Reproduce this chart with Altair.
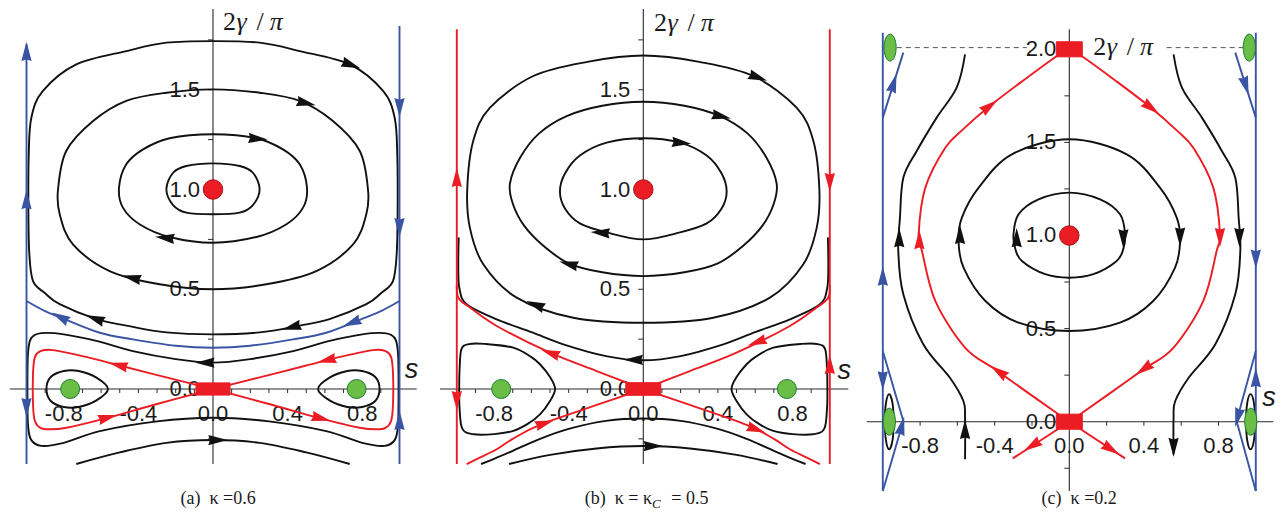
import altair as alt
import pandas as pd

# ======================= DATA =======================
# ---------- panel (a): kappa = 0.6 ----------
# closed orbits around the centre (0,1): right halves, top -> bottom
A_LOOP1 = [(0, 1.131), (0.143, 1.118), (0.214, 1.084), (0.25, 1.001), (0.214, 0.922), (0.143, 0.884), (0, 0.876)]
A_LOOP2 = [(0, 1.277), (0.233, 1.257), (0.375, 1.201), (0.465, 1.126), (0.504, 1.009), (0.483, 0.909),
           (0.394, 0.826), (0.233, 0.762), (0, 0.733)]
A_LOOP3 = [(0, 1.502), (0.25, 1.485), (0.465, 1.444), (0.643, 1.343), (0.787, 1.193), (0.831, 1.0),
           (0.822, 0.876), (0.751, 0.725), (0.554, 0.591), (0.286, 0.525), (0, 0.5)]
A_LOOP4 = [(0, 1.744), (0.25, 1.736), (0.465, 1.694), (0.733, 1.627), (0.912, 1.494), (0.974, 1.36),
           (0.988, 1.176), (0.99, 0.9), (0.985, 0.68), (0.965, 0.541), (0.9, 0.48), (0.822, 0.425),
           (0.625, 0.35), (0.465, 0.318), (0.25, 0.284), (0, 0.274)]
A_LOOP5 = [(0, 0.132), (0.2, 0.15), (0.43, 0.19), (0.62, 0.24), (0.8, 0.274), (0.92, 0.28), (0.975, 0.255),
           (0.992, 0.18), (0.995, 0.0), (0.992, -0.18), (0.975, -0.255), (0.92, -0.285), (0.8, -0.27),
           (0.607, -0.211), (0.3, -0.162), (0, -0.144)]
A_TEAR = [(-0.893, 0), (-0.87, 0.06), (-0.8, 0.09), (-0.72, 0.09), (-0.625, 0.057), (-0.563, 0),
          (-0.625, -0.057), (-0.72, -0.09), (-0.8, -0.09), (-0.87, -0.06)]
A_LOBE = [(0, 0), (-0.25, 0.058), (-0.5, 0.118), (-0.7, 0.165), (-0.858, 0.195), (-0.925, 0.19),
          (-0.955, 0.16), (-0.965, 0.08), (-0.965, -0.08), (-0.955, -0.16), (-0.925, -0.195),
          (-0.876, -0.202), (-0.786, -0.194), (-0.607, -0.155), (-0.3, -0.075), (0, 0)]
A_SEP = [(-1.0, 0.441), (-0.9, 0.39), (-0.813, 0.357), (-0.607, 0.282), (-0.429, 0.249), (-0.2, 0.217), (0, 0.207)]
A_ARC = [(-0.733, -0.376), (-0.5, -0.318), (-0.25, -0.27), (0, -0.256)]
A_WALLS = [[(-1, -0.376), (-1, 1.728)], [(1, -0.376), (1, 1.82)]]
A_ARROWS_BLACK = [(0.733, 1.627, 110), (0.492, 1.435, 103), (0.233, 1.255, 95), (-0.25, 0.757, 276),
                  (-0.429, 0.556, 283), (-0.625, 0.35, 290), (0.429, 0.312, 255), (-0.035, 0.132, 270),
                  (0.018, -0.256, 90)]
A_ARROWS_RED = [(-0.5, 0.118, 284), (-0.572, -0.145, 75), (0.617, 0.146, 256), (0.572, -0.145, 104)]
A_ARROWS_BLUE = [(-0.813, 0.357, 298), (0.751, 0.334, 248), (-1, 1.684, 0), (-1, 0.942, 0), (-1, -0.085, 180),
                 (1, 1.418, 180), (1, 0.817, 180), (1, -0.165, 0)]
A_GREEN = [(-0.766, 0), (0.77, 0)]

# ---------- panel (b): kappa = kappa_C = 0.5 ----------
B_LOOP1 = [(0, 1.257), (0.197, 1.235), (0.34, 1.17), (0.42, 1.08), (0.447, 0.99), (0.42, 0.905),
           (0.34, 0.83), (0.197, 0.785), (0, 0.75)]
B_LOOP2 = [(0, 1.44), (0.22, 1.42), (0.411, 1.368), (0.56, 1.28), (0.66, 1.16), (0.715, 1.03), (0.7, 0.93),
           (0.64, 0.82), (0.536, 0.718), (0.4, 0.63), (0.22, 0.585), (0, 0.566)]
B_LOOP3 = [(0, 1.672), (0.3, 1.64), (0.59, 1.569), (0.822, 1.41), (0.912, 1.243), (0.944, 1.0), (0.93, 0.809),
           (0.858, 0.625), (0.679, 0.458), (0.375, 0.357), (0, 0.332)]
B_U = [(-0.99, 0.76), (-0.992, 0.6), (-0.985, 0.5), (-0.947, 0.425), (-0.786, 0.349), (-0.6, 0.285),
       (-0.429, 0.224), (-0.2, 0.165), (0, 0.144)]
B_TEAR = [(-0.985, 0.1), (-0.975, 0.2), (-0.935, 0.225), (-0.85, 0.226), (-0.697, 0.207), (-0.6, 0.16),
          (-0.554, 0.124), (-0.5, 0.06), (-0.473, 0.0), (-0.5, -0.06), (-0.554, -0.127), (-0.62, -0.175),
          (-0.697, -0.21), (-0.8, -0.226), (-0.91, -0.227), (-0.97, -0.2), (-0.985, -0.1), (-0.987, 0.0)]
B_SEP_UP = [(-1.0, 0.52), (-0.99, 0.455), (-0.929, 0.408), (-0.786, 0.316), (-0.5, 0.182), (-0.25, 0.09), (0, 0)]
B_SEP_DN = [(0, 0), (-0.25, -0.08), (-0.554, -0.18), (-0.7, -0.25), (-0.786, -0.302), (-0.88, -0.345),
            (-0.947, -0.377)]
B_ARC1 = [(-0.87, -0.376), (-0.8, -0.35), (-0.7, -0.31), (-0.554, -0.25), (-0.4, -0.2), (-0.2, -0.16), (0, -0.148)]
B_ARC2 = [(-0.72, -0.376), (-0.5, -0.33), (-0.25, -0.298), (0, -0.286)]
B_WALLS = [[(-1, -0.376), (-1, 1.803)], [(1, -0.376), (1, 1.803)]]
B_ARROWS_BLACK = [(0.608, 1.564, 110), (0.411, 1.368, 103), (0.197, 1.235, 96), (-0.223, 0.783, 274),
                  (-0.393, 0.625, 285), (-0.572, 0.42, 292), (-0.045, 0.146, 270), (0.045, -0.286, 90)]
B_ARROWS_RED = [(-0.491, 0.178, 289), (0.617, 0.237, 250), (-0.536, -0.174, 72), (0.599, -0.2, 110),
                (-1, 1.053, 0), (-1, -0.05, 180), (1, 1.043, 180), (1, 0.115, 0)]
B_GREEN = [(-0.762, 0), (0.77, 0)]

# ---------- panel (c): kappa = 0.2 ----------
C_LOOP1 = [(0, 1.23), (0.165, 1.194), (0.272, 1.114), (0.299, 1.007), (0.29, 0.93), (0.254, 0.863),
           (0.129, 0.792), (0, 0.773)]
C_LOOP2 = [(0, 1.517), (0.308, 1.436), (0.486, 1.257), (0.576, 1.096), (0.594, 0.97), (0.567, 0.827),
           (0.45, 0.648), (0.272, 0.532), (0, 0.487)]
C_SEP = [(0, 2.0), (0.066, 1.964), (0.25, 1.83), (0.433, 1.69), (0.57, 1.57), (0.665, 1.471), (0.772, 1.257),
         (0.808, 1.006), (0.79, 0.917), (0.718, 0.648), (0.558, 0.397), (0.397, 0.281), (0.2, 0.14),
         (0.066, 0.045), (0, 0)]
C_STUBS = [[(0, 0), (-0.303, -0.197)], [(0, 0), (0.299, -0.197)]]
C_OPEN_L = [(-0.559, 1.973), (-0.604, 1.794), (-0.711, 1.633), (-0.818, 1.454), (-0.89, 1.31), (-0.908, 1.096),
            (-0.917, 0.917), (-0.89, 0.684), (-0.783, 0.416), (-0.64, 0.236), (-0.568, 0.111), (-0.559, 0.021),
            (-0.559, -0.202)]
C_OPEN_R = [(0.559, 1.973), (0.604, 1.794), (0.711, 1.633), (0.818, 1.454), (0.89, 1.31), (0.908, 1.096),
            (0.917, 0.917), (0.89, 0.684), (0.783, 0.416), (0.64, 0.236), (0.568, 0.111), (0.559, 0.021),
            (0.559, -0.175)]
C_RING_L = [(-0.966, 0.148), (-0.948, 0.1), (-0.942, 0), (-0.948, -0.1), (-0.966, -0.148), (-0.983, -0.1),
            (-0.989, 0), (-0.983, 0.1)]
C_RING_R = [(0.972, 0.148), (0.99, 0.1), (0.996, 0), (0.99, -0.1), (0.972, -0.148), (0.954, -0.1),
            (0.948, 0), (0.954, 0.1)]
C_BLUE = [[(-1, -0.372), (-1, 2.089)], [(1, -0.372), (1, 2.089)],
          [(-1, 1.633), (-0.89, 1.982)], [(0.89, 1.982), (1, 1.633)],
          [(-1, 0.38), (-0.89, 0.004), (-1, -0.372)], [(1, 0.38), (0.897, 0.004), (1, -0.372)]]
C_DASH = [[(-0.925, 2.009), (-0.228, 2.009)], [(0.522, 2.009), (0.933, 2.009)]]
C_ARROWS_BLACK = [(-0.282, 0.98, 0), (0.29, 0.99, 180), (-0.586, 0.997, 0), (0.594, 1.0, 180),
                  (-0.912, 0.98, 0), (0.912, 0.997, 180), (-0.559, -0.05, 0), (0.559, -0.13, 180)]
C_ARROWS_RED = [(-0.804, 0.97, 0), (0.808, 0.997, 180), (-0.434, 1.69, 53), (0.433, 1.69, 127),
                (-0.372, 0.265, 305), (0.406, 0.287, 234), (-0.193, -0.125, 237), (0.218, -0.144, 123)]
C_ARROWS_BLUE = [(-0.944, 1.811, 17), (0.944, 1.811, 163), (-1, 0.773, 0), (-1, 0.228, 180),
                 (1, 0.881, 180), (1, 0.228, 0), (-0.9, -0.03, 14), (0.905, 0.03, 195)]
C_GREEN = [(-0.961, 2.009), (0.965, 2.009), (-0.965, 0), (0.973, 0)]

# ---------- axes, ticks and labels ----------
AB_XTICKS = [-0.9, -0.8, -0.7, -0.6, -0.5, -0.4, -0.3, -0.2, -0.1, 0.1, 0.2, 0.3, 0.4, 0.5, 0.6, 0.7, 0.8, 0.9]
C_XTICKS = [-0.8, -0.6, -0.4, -0.2, 0.2, 0.4, 0.6, 0.8]
AB_YTICKS = [-0.25, 0.25, 0.5, 0.75, 1.0, 1.25, 1.5, 1.75]
C_YTICKS = [-0.25, 0.25, 0.5, 0.75, 1.0, 1.25, 1.5, 1.75]
X_LABEL_POS = [-0.8, -0.4, 0.0, 0.4, 0.8]
X_LABELS = ["-0.8", "-0.4", "0.0", "0.4", "0.8"]
AB_Y_LABEL_POS = [0.0, 0.5, 1.0, 1.5]
AB_Y_LABELS = ["0.0", "0.5", "1.0", "1.5"]
C_Y_LABEL_POS = [0.0, 0.5, 1.0, 1.5, 2.0]
C_Y_LABELS = ["0.0", "0.5", "1.0", "1.5", "2.0"]

# ======================= STYLE / LAYOUT =======================
BLACK = "#111111"
RED = "#EC1C24"
BLUE = "#3A54A4"
GREEN = "#6ABD45"
GREEN_EDGE = "#1E7B34"
RED_EDGE = "#A3141A"
AXIS = "#2a2a2a"
TXT = "#1a1a1a"
SANS = "Liberation Sans"
SERIF = "Liberation Serif"
ARROW = "M0,-1L0.46,0.72L0,0.58L-0.46,0.72Z"
RECT_AB = "M-1,-0.36L1,-0.36L1,0.36L-1,0.36Z"
RECT_C = "M-1,-0.58L1,-0.58L1,0.58L-1,0.58Z"
ELLIPSE = ("M0,-1C0.2485,-1 0.45,-0.5523 0.45,0C0.45,0.5523 0.2485,1 0,1"
           "C-0.2485,1 -0.45,0.5523 -0.45,0C-0.45,-0.5523 -0.2485,-1 0,-1Z")
H = 499
LW = 1.9


def mirror_closed(half):
    return list(half) + [(-s, y) for s, y in reversed(half[1:-1])]


def mirror_open(half):
    return list(half) + [(-s, y) for s, y in reversed(half[:-1])]


def flip(pts):
    return [(-s, y) for s, y in pts]


def scales(xdom, ydom):
    X = alt.X("s:Q", scale=alt.Scale(domain=xdom, nice=False, zero=False), axis=None)
    Y = alt.Y("y:Q", scale=alt.Scale(domain=ydom, nice=False, zero=False), axis=None)
    return X, Y


def curves_df(curves):
    rows = []
    for k, pts in enumerate(curves):
        for i, (s, y) in enumerate(pts):
            rows.append({"s": s, "y": y, "cid": k, "i": i})
    return pd.DataFrame(rows)


def lines(curves, color, interp, X, Y, width=LW, dash=None):
    kw = dict(color=color, strokeWidth=width, interpolate=interp, strokeJoin="round")
    if dash is not None:
        kw["strokeDash"] = dash
    return alt.Chart(curves_df(curves)).mark_line(**kw).encode(x=X, y=Y, detail="cid:N", order="i:Q")


def arrows(items, color, X, Y, size=500):
    df = pd.DataFrame(items, columns=["s", "y", "ang"])
    return alt.Chart(df).mark_point(shape=ARROW, size=size, filled=True, color=color, opacity=1).encode(
        x=X, y=Y, angle=alt.Angle("ang:Q", scale=None))


def markers(pts, shape, size, fill, stroke, X, Y):
    df = pd.DataFrame(pts, columns=["s", "y"])
    return alt.Chart(df).mark_point(shape=shape, size=size, filled=True, fill=fill, stroke=stroke,
                                    strokeWidth=1, opacity=1).encode(x=X, y=Y)


def texts(pts, labels, X, Y, **kw):
    df = pd.DataFrame({"s": [p[0] for p in pts], "y": [p[1] for p in pts], "t": labels})
    return alt.Chart(df).mark_text(**kw).encode(x=X, y=Y, text="t:N")


def axes(xext, yext, xticks, yticks, X, Y):
    df = pd.DataFrame({"s": [xext[0], 0.0], "s2": [xext[1], 0.0], "y": [0.0, yext[0]], "y2": [0.0, yext[1]]})
    ax = alt.Chart(df).mark_rule(color=AXIS, strokeWidth=1.1).encode(x=X, x2=alt.X2("s2"), y=Y, y2=alt.Y2("y2"))
    tx = alt.Chart(pd.DataFrame({"s": xticks, "y": [0.0] * len(xticks)})).mark_point(
        shape="M0,0L0,1", size=64, color=AXIS, opacity=1, strokeWidth=1).encode(x=X, y=Y)
    ty = alt.Chart(pd.DataFrame({"s": [0.0] * len(yticks), "y": yticks})).mark_point(
        shape="M0,0L-1,0", size=100, color=AXIS, opacity=1, strokeWidth=1).encode(x=X, y=Y)
    return [ax, tx, ty]


def gamma_label(pos, X, Y, dxs):
    parts = [("2", "normal"), ("γ", "italic"), ("/", "normal"), ("π", "italic")]
    out = []
    for (t, st), dx in zip(parts, dxs):
        out.append(texts([pos], [t], X, Y, font=SERIF, fontSize=26, fontStyle=st, align="left",
                         baseline="middle", dx=dx, color=TXT))
    return out


def tick_labels(X, Y, ylpos, ylabels, dy):
    return [
        texts([(p, 0) for p in X_LABEL_POS], X_LABELS, X, Y, font=SANS, fontSize=22, align="center",
              baseline="middle", dy=dy, color=TXT),
        texts([(0, p) for p in ylpos], ylabels, X, Y, font=SANS, fontSize=22, align="right",
              baseline="middle", dx=-13, color=TXT),
    ]


# ---------------- panel (a) ----------------
Xa, Ya = scales([-1.0992, 1.1528], [-0.5965, 1.9048])
la = axes((-1.09, 1.092), (-0.376, 1.905), AB_XTICKS, AB_YTICKS, Xa, Ya)
la += tick_labels(Xa, Ya, AB_Y_LABEL_POS, AB_Y_LABELS, 25)
la.append(lines([mirror_closed(A_LOOP1), mirror_closed(A_LOOP2), mirror_closed(A_LOOP3),
                 mirror_closed(A_LOOP4), mirror_closed(A_LOOP5), A_TEAR, flip(A_TEAR)],
                BLACK, "cardinal-closed", Xa, Ya))
la.append(lines([mirror_open(A_ARC)], BLACK, "cardinal", Xa, Ya))
la.append(lines([mirror_open(A_SEP)], BLUE, "cardinal", Xa, Ya))
la.append(lines(A_WALLS, BLUE, "linear", Xa, Ya))
la.append(lines([A_LOBE, flip(A_LOBE)], RED, "cardinal", Xa, Ya))
la.append(arrows(A_ARROWS_BLACK, BLACK, Xa, Ya))
la.append(arrows(A_ARROWS_RED, RED, Xa, Ya))
la.append(arrows(A_ARROWS_BLUE, BLUE, Xa, Ya))
la.append(markers([(0, 1)], "circle", 380, RED, RED_EDGE, Xa, Ya))
la.append(markers([(0, 0)], RECT_AB, 1156, RED, RED, Xa, Ya))
la.append(markers(A_GREEN, "circle", 361, GREEN, GREEN_EDGE, Xa, Ya))
la += gamma_label((0, 1.84), Xa, Ya, [10, 23.4, 43.4, 56.7])
la.append(texts([(1.064, 0.094)], ["s"], Xa, Ya, font=SANS, fontSize=27, fontStyle="italic",
                align="center", baseline="middle", color=TXT))
la.append(texts([(0.027, -0.551)], ["(a)\u00a0\u00a0κ\u00a0=0.6"], Xa, Ya, font=SERIF, fontSize=18,
                align="center", baseline="middle", color=TXT))
pa = alt.layer(*la).properties(width=420, height=H)

# ---------------- panel (b) ----------------
Xb, Yb = scales([-1.1544, 1.1405], [-0.5965, 1.9048])
lb = axes((-1.09, 1.099), (-0.376, 1.905), AB_XTICKS, AB_YTICKS, Xb, Yb)
lb += tick_labels(Xb, Yb, AB_Y_LABEL_POS, AB_Y_LABELS, 25)
lb.append(lines([mirror_closed(B_LOOP1), mirror_closed(B_LOOP2), mirror_closed(B_LOOP3), B_TEAR, flip(B_TEAR)],
                BLACK, "cardinal-closed", Xb, Yb))
lb.append(lines([mirror_open(B_U), mirror_open(B_ARC1), mirror_open(B_ARC2)], BLACK, "cardinal", Xb, Yb))
lb.append(lines(B_WALLS, RED, "linear", Xb, Yb))
lb.append(lines([B_SEP_UP, flip(B_SEP_UP), B_SEP_DN, flip(B_SEP_DN)], RED, "cardinal", Xb, Yb))
lb.append(arrows(B_ARROWS_BLACK, BLACK, Xb, Yb))
lb.append(arrows(B_ARROWS_RED, RED, Xb, Yb))
lb.append(markers([(0, 1)], "circle", 380, RED, RED_EDGE, Xb, Yb))
lb.append(markers([(0, 0)], RECT_AB, 1225, RED, RED, Xb, Yb))
lb.append(markers(B_GREEN, "circle", 361, GREEN, GREEN_EDGE, Xb, Yb))
lb += gamma_label((0, 1.837), Xb, Yb, [10.7, 24.1, 44.1, 57.4])
lb.append(texts([(1.077, 0.09)], ["s"], Xb, Yb, font=SANS, fontSize=27, fontStyle="italic",
                align="center", baseline="middle", color=TXT))
lb.append(texts([(0.047, -0.551)], ["(b)\u00a0\u00a0κ\u00a0=\u00a0κ"], Xb, Yb, font=SERIF, fontSize=18,
                align="right", baseline="middle", color=TXT))
lb.append(texts([(0.047, -0.551)], ["C"], Xb, Yb, font=SERIF, fontSize=13, fontStyle="italic",
                align="left", baseline="middle", dy=5, color=TXT))
lb.append(texts([(0.15, -0.551)], ["=\u00a00.5"], Xb, Yb, font=SERIF, fontSize=18,
                align="left", baseline="middle", color=TXT))
pb = alt.layer(*lb).properties(width=428, height=H)

# ---------------- panel (c) ----------------
Xc, Yc = scales([-1.1437, 1.1083], [-0.4635, 2.2164])
lc = axes((-1.086, 1.094), (-0.372, 2.107), C_XTICKS, C_YTICKS, Xc, Yc)
lc += tick_labels(Xc, Yc, C_Y_LABEL_POS, C_Y_LABELS, 24)
lc.append(lines(C_DASH, "#555555", "linear", Xc, Yc, width=1, dash=[5, 4]))
lc.append(lines([mirror_closed(C_LOOP1), mirror_closed(C_LOOP2), C_RING_L, C_RING_R],
                BLACK, "cardinal-closed", Xc, Yc))
lc.append(lines([C_OPEN_L, C_OPEN_R], BLACK, "cardinal", Xc, Yc))
lc.append(lines(C_BLUE, BLUE, "linear", Xc, Yc))
lc.append(lines([C_SEP, flip(C_SEP)], RED, "cardinal", Xc, Yc))
lc.append(lines(C_STUBS, RED, "linear", Xc, Yc))
lc.append(arrows(C_ARROWS_BLACK, BLACK, Xc, Yc))
lc.append(arrows(C_ARROWS_RED, RED, Xc, Yc))
lc.append(arrows(C_ARROWS_BLUE, BLUE, Xc, Yc))
lc.append(markers([(0, 1)], "circle", 380, RED, RED_EDGE, Xc, Yc))
lc.append(markers([(0, 0), (0, 2)], RECT_C, 676, RED, RED, Xc, Yc))
lc.append(markers(C_GREEN, ELLIPSE, 729, GREEN, GREEN_EDGE, Xc, Yc))
lc += gamma_label((0, 2.01), Xc, Yc, [24, 37.4, 57.4, 70.7])
lc.append(texts([(1.071, 0.129)], ["s"], Xc, Yc, font=SANS, fontSize=27, fontStyle="italic",
                align="center", baseline="middle", color=TXT))
lc.append(texts([(0.053, -0.415)], ["(c)\u00a0\u00a0κ\u00a0=0.2"], Xc, Yc, font=SERIF, fontSize=18,
                align="center", baseline="middle", color=TXT))
pc = alt.layer(*lc).properties(width=420, height=H)

chart = alt.hconcat(pa, pb, pc, spacing=0).properties(padding=0, bounds="flush").configure_view(stroke=None)
chart.save("out.html", embed_options={"renderer": "svg", "actions": False})
